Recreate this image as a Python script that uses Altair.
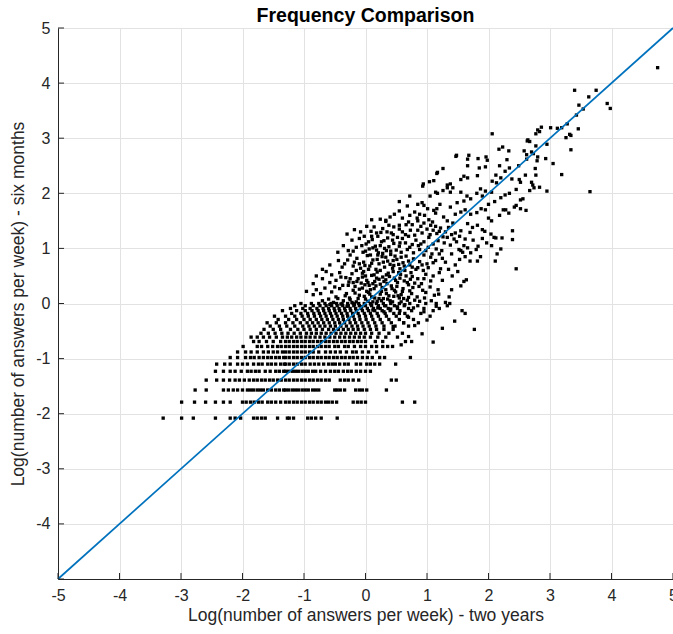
import altair as alt
import pandas as pd

# ---- data ----
tick_values = [-5, -4, -3, -2, -1, 0, 1, 2, 3, 4, 5]
y_label_values = [-4, -3, -2, -1, 0, 1, 2, 3, 4, 5]
line_x = [-5, 5]
line_y = [-5, 5]

# discrete rows in the lower part (y level, x positions)
row_levels = [-2.08, -1.79, -1.57, -1.39, -1.23, -1.10, -0.98, -0.88, -0.78, -0.69,
              -0.61, -0.54, -0.47, -0.41, -0.35, -0.29, -0.23, -0.18, -0.13, -0.09, -0.04, 0.00]
row_xs = [
    [-3.29, -2.99, -2.80, -2.44, -2.20, -2.12, -2.03, -1.82, -1.76, -1.69, -1.63, -1.43, -1.27, -1.24, -1.17, -0.94, -0.88, -0.81, -0.72, -0.46],
    [-2.99, -2.78, -2.60, -2.44, -2.31, -2.20, -2.00, -1.94, -1.87, -1.81, -1.74, -1.68, -1.59, -1.53, -1.46, -1.38, -1.30, -1.24, -1.17, -1.11, -1.04, -0.98, -0.91, -0.85, -0.78, -0.72, -0.65, -0.60, -0.54, -0.47, -0.20, -0.13, -0.07, 0.00, 0.60, 0.80],
    [-2.77, -2.59, -2.31, -2.23, -2.15, -2.08, -2.00, -1.92, -1.87, -1.82, -1.76, -1.71, -1.66, -1.59, -1.53, -1.46, -1.40, -1.33, -1.30, -1.25, -1.19, -1.14, -1.09, -1.03, -0.98, -0.93, -0.86, -0.81, -0.76, -0.50, -0.46, -0.41, -0.34, -0.16, -0.10, -0.05, 0.02, 0.34],
    [-2.59, -2.42, -2.31, -2.21, -2.12, -2.05, -1.97, -1.89, -1.82, -1.76, -1.69, -1.63, -1.56, -1.50, -1.43, -1.37, -1.30, -1.24, -1.17, -1.11, -1.04, -0.98, -0.91, -0.85, -0.78, -0.72, -0.65, -0.59, -0.41, -0.34, -0.28, -0.20, -0.11, 0.42, 0.50],
    [-2.44, -2.31, -2.20, -2.12, -2.02, -1.92, -1.86, -1.79, -1.73, -1.63, -1.55, -1.46, -1.40, -1.33, -1.30, -1.25, -1.19, -1.14, -1.09, -1.03, -0.98, -0.93, -0.86, -0.81, -0.73, -0.65, -0.57, -0.50, -0.44, -0.36, -0.29, -0.23, -0.15, -0.08, 0.00, 0.08],
    [-2.42, -2.29, -2.20, -2.08, -2.00, -1.92, -1.82, -1.74, -1.68, -1.59, -1.53, -1.46, -1.38, -1.32, -1.30, -1.24, -1.17, -1.11, -1.04, -0.98, -0.90, -0.83, -0.76, -0.68, -0.60, -0.54, -0.49, -0.42, -0.34, -0.28, -0.15, -0.08, 0.02, 0.08, 0.15, 0.23, 0.49],
    [-2.20, -2.08, -1.95, -1.87, -1.81, -1.73, -1.66, -1.59, -1.53, -1.46, -1.40, -1.33, -1.30, -1.24, -1.17, -1.11, -1.04, -0.98, -0.91, -0.85, -0.78, -0.72, -0.65, -0.59, -0.52, -0.46, -0.39, -0.33, -0.26, -0.20, -0.13, -0.05, 0.03, 0.11, 0.23, 0.31, 0.73],
    [-2.08, -1.95, -1.86, -1.76, -1.66, -1.58, -1.50, -1.43, -1.35, -1.30, -1.24, -1.17, -1.11, -1.04, -0.98, -0.91, -0.85, -0.76, -0.65, -0.57, -0.49, -0.41, -0.31, -0.21, -0.15, -0.05, 0.05, 0.18],
    [-1.99, -1.76, -1.69, -1.59, -1.51, -1.43, -1.37, -1.30, -1.24, -1.17, -1.11, -1.04, -0.98, -0.91, -0.85, -0.78, -0.72, -0.65, -0.59, -0.50, -0.44, -0.34, -0.28, -0.18, -0.08, 0.00, 0.10, 0.18, 0.28, 0.36, 0.44],
    [-1.82, -1.73, -1.61, -1.50, -1.38, -1.30, -1.24, -1.17, -1.11, -1.04, -0.98, -0.91, -0.85, -0.78, -0.72, -0.65, -0.59, -0.52, -0.46, -0.39, -0.33, -0.26, -0.20, -0.13, -0.07, 0.00, 0.16, 0.28, 0.65, 0.75],
    [-1.86, -1.76, -1.66, -1.56, -1.45, -1.35, -1.27, -1.20, -1.12, -1.05, -0.97, -0.90, -0.82, -0.74, -0.66, -0.58, -0.50, -0.42, -0.34, -0.26, -0.18, -0.10, -0.02, 0.08, 0.20, 0.33, 0.52],
    [-1.70, -1.58, -1.47, -1.36, -1.26, -1.16, -1.06, -0.96, -0.88, -0.80, -0.72, -0.64, -0.56, -0.48, -0.40, -0.32, -0.24, -0.16, -0.08, 0.00, 0.10, 0.22, 0.38, 0.60],
    [-1.65, -1.50, -1.38, -1.22, -1.10, -1.00, -0.90, -0.80, -0.70, -0.60, -0.52, -0.44, -0.36, -0.28, -0.20, -0.12, -0.02, 0.08, 0.18, 0.30, 0.45],
    [-1.55, -1.40, -1.28, -1.15, -1.02, -0.92, -0.83, -0.74, -0.66, -0.57, -0.49, -0.40, -0.31, -0.22, -0.13, -0.04, 0.06, 0.17, 0.30, 0.48, 0.70],
    [-1.60, -1.45, -1.30, -1.18, -1.06, -0.95, -0.86, -0.77, -0.68, -0.59, -0.50, -0.42, -0.34, -0.25, -0.16, -0.06, 0.04, 0.15, 0.27, 0.42, 0.62, 0.86],
    [-1.42, -1.25, -1.12, -1.00, -0.90, -0.80, -0.71, -0.62, -0.53, -0.44, -0.36, -0.27, -0.18, -0.09, 0.01, 0.12, 0.24, 0.38, 0.55, 0.78],
    [-1.48, -1.30, -1.15, -1.03, -0.93, -0.83, -0.73, -0.64, -0.55, -0.46, -0.37, -0.29, -0.20, -0.10, 0.00, 0.10, 0.21, 0.34, 0.50, 0.68, 1.05],
    [-1.20, -1.05, -0.94, -0.84, -0.75, -0.66, -0.57, -0.48, -0.39, -0.30, -0.21, -0.12, -0.02, 0.08, 0.19, 0.32, 0.46, 0.64, 0.90, 1.62],
    [-1.35, -1.12, -0.98, -0.87, -0.77, -0.68, -0.59, -0.50, -0.42, -0.33, -0.24, -0.15, -0.05, 0.05, 0.15, 0.27, 0.40, 0.56, 0.75, 1.10, 1.57],
    [-1.22, -1.02, -0.90, -0.79, -0.69, -0.60, -0.51, -0.43, -0.34, -0.25, -0.16, -0.07, 0.03, 0.13, 0.24, 0.37, 0.52, 0.70, 0.95, 1.20],
    [-1.15, -0.98, -0.85, -0.74, -0.64, -0.55, -0.46, -0.37, -0.28, -0.19, -0.10, 0.00, 0.10, 0.21, 0.33, 0.47, 0.63, 0.85, 1.33],
    [-1.05, -0.88, -0.76, -0.66, -0.56, -0.47, -0.38, -0.29, -0.20, -0.11, -0.02, 0.08, 0.18, 0.29, 0.41, 0.55, 0.72, 0.98, 1.15, 1.37],
]

# upper cloud (x, y)
cloud = [
    # 0.0 - 0.3
    (-0.96, 0.22), (-0.85, 0.16), (-0.80, 0.25), (-0.73, 0.18), (-0.66, 0.28), (-0.60, 0.08), (-0.55, 0.21), (-0.48, 0.12),
    (-0.42, 0.27), (-0.36, 0.05), (-0.31, 0.18), (-0.26, 0.10), (-0.20, 0.24), (-0.15, 0.03), (-0.10, 0.15), (-0.05, 0.28),
    (0.00, 0.08), (0.05, 0.20), (0.10, 0.12), (0.14, 0.27), (0.19, 0.04), (0.24, 0.17), (0.29, 0.09), (0.33, 0.25),
    (0.38, 0.14), (0.44, 0.03), (0.49, 0.21), (0.55, 0.10), (0.61, 0.27), (0.68, 0.06), (0.75, 0.18), (0.84, 0.12),
    (0.93, 0.24), (1.07, 0.05), (1.12, 0.15), (1.19, 0.17), (1.30, 0.02), (1.36, 0.12), (-0.70, 0.05), (-0.22, 0.02),
    (0.02, 0.22), (0.27, 0.29), (0.58, 0.03),
    # 0.3 - 0.6
    (-0.85, 0.36), (-0.80, 0.50), (-0.70, 0.45), (-0.64, 0.58), (-0.58, 0.38), (-0.55, 0.52), (-0.48, 0.42), (-0.42, 0.56),
    (-0.37, 0.33), (-0.32, 0.47), (-0.27, 0.39), (-0.22, 0.54), (-0.17, 0.31), (-0.12, 0.45), (-0.07, 0.37), (-0.03, 0.58),
    (0.02, 0.42), (0.06, 0.33), (0.10, 0.51), (0.15, 0.40), (0.19, 0.57), (0.24, 0.35), (0.28, 0.48), (0.33, 0.43),
    (0.37, 0.55), (0.42, 0.32), (0.47, 0.46), (0.52, 0.38), (0.57, 0.53), (0.63, 0.41), (0.70, 0.34), (0.76, 0.49),
    (0.85, 0.45), (0.91, 0.36), (0.98, 0.53), (1.06, 0.41), (1.20, 0.56), (1.35, 0.62), (1.41, 0.50), (1.55, 0.32),
    (1.60, 0.40), (1.64, 0.43), (-0.05, 0.48), (0.22, 0.44), (0.45, 0.58), (0.12, 0.36), (-0.25, 0.45),
    # 0.6 - 0.9
    (-0.70, 0.62), (-0.58, 0.70), (-0.44, 0.78), (-0.38, 0.66), (-0.29, 0.79), (-0.25, 0.88), (-0.20, 0.68), (-0.14, 0.82),
    (-0.08, 0.64), (-0.03, 0.75), (0.03, 0.87), (0.07, 0.68), (0.12, 0.79), (0.17, 0.62), (0.22, 0.72), (0.27, 0.85),
    (0.31, 0.66), (0.36, 0.77), (0.41, 0.89), (0.46, 0.69), (0.51, 0.80), (0.56, 0.63), (0.61, 0.74), (0.66, 0.86),
    (0.72, 0.70), (0.78, 0.81), (0.85, 0.65), (0.88, 0.76), (0.95, 0.88), (1.00, 0.72), (1.06, 0.84), (1.14, 0.78),
    (1.22, 0.63), (1.46, 0.70), (1.53, 0.80), (1.62, 0.85), (1.70, 0.77), (1.82, 0.77), (1.87, 0.85), (2.11, 0.77),
    (2.14, 0.90), (-0.10, 0.72), (0.40, 0.71), (0.20, 0.88), (0.63, 0.68),
    # 0.9 - 1.2
    (-0.45, 0.93), (-0.36, 1.05), (-0.28, 0.96), (-0.22, 1.15), (-0.15, 1.02), (-0.10, 1.18), (-0.04, 0.93), (0.01, 1.08),
    (0.06, 0.99), (0.11, 1.16), (0.16, 1.04), (0.21, 0.92), (0.26, 1.12), (0.31, 1.00), (0.36, 1.19), (0.41, 0.95),
    (0.46, 1.09), (0.55, 1.04), (0.60, 1.18), (0.65, 1.10), (0.70, 1.22), (0.76, 1.07), (0.82, 1.15), (0.88, 0.98),
    (0.95, 1.12), (1.03, 1.20), (1.10, 1.08), (1.18, 1.14), (1.24, 0.96), (1.33, 1.20), (1.38, 1.06), (1.44, 1.17),
    (1.52, 0.98), (1.58, 0.93), (1.66, 1.01), (1.71, 0.92), (1.80, 0.98), (1.83, 1.04), (1.97, 1.10), (2.05, 1.05),
    (2.12, 1.19), (2.20, 0.99), (2.22, 1.19), (2.39, 1.16), (1.55, 0.96), (0.50, 0.97),
    # 1.2 - 1.5
    (-0.30, 1.26), (-0.18, 1.34), (-0.08, 1.30), (0.02, 1.40), (0.09, 1.31), (0.14, 1.39), (0.18, 1.28), (0.25, 1.29),
    (0.33, 1.49), (0.38, 1.42), (0.46, 1.39), (0.55, 1.42), (0.66, 1.43), (0.73, 1.33), (0.76, 1.43), (0.85, 1.33),
    (0.90, 1.40), (0.95, 1.46), (1.00, 1.35), (1.06, 1.42), (1.10, 1.33), (1.16, 1.27), (1.22, 1.37), (1.26, 1.21),
    (1.30, 1.30), (1.40, 1.25), (1.46, 1.28), (1.53, 1.22), (1.62, 1.17), (1.66, 1.45), (1.74, 1.38), (1.82, 1.42),
    (1.90, 1.34), (1.94, 1.31), (2.04, 1.26), (2.09, 1.20), (2.39, 1.32), (1.70, 1.29), (1.55, 1.32), (0.60, 1.30),
    (0.28, 1.36), (-0.02, 1.22), (0.45, 1.25),
    # 1.5 - 1.8
    (0.10, 1.52), (0.24, 1.53), (0.33, 1.51), (0.40, 1.57), (0.47, 1.62), (0.55, 1.68), (0.60, 1.55), (0.68, 1.77),
    (0.72, 1.60), (0.80, 1.66), (0.84, 1.55), (0.88, 1.62), (0.96, 1.60), (1.03, 1.52), (1.09, 1.48), (1.01, 1.72),
    (1.11, 1.69), (1.16, 1.72), (1.21, 1.80), (1.27, 1.57), (1.33, 1.50), (1.42, 1.46), (1.46, 1.62), (1.55, 1.66),
    (1.62, 1.70), (1.71, 1.62), (1.81, 1.65), (1.88, 1.72), (1.95, 1.70), (2.00, 1.55), (2.05, 1.50), (2.18, 1.60),
    (2.24, 1.70), (2.28, 1.70), (2.42, 1.75), (2.52, 1.72), (2.61, 1.69), (2.45, 1.78), (2.33, 1.64), (1.14, 1.64),
    (1.38, 1.75), (0.95, 1.78),
    # 1.8 - 2.1
    (0.55, 1.85), (0.72, 1.95), (0.85, 1.80), (0.92, 1.83), (1.05, 1.95), (1.14, 2.02), (1.17, 2.00), (1.26, 2.05),
    (1.33, 2.10), (1.38, 2.02), (1.42, 2.10), (1.49, 1.83), (1.55, 2.02), (1.60, 1.86), (1.71, 1.90), (1.81, 2.00),
    (1.87, 2.08), (1.95, 2.04), (2.00, 1.80), (2.05, 2.02), (2.10, 1.85), (2.13, 2.19), (2.27, 1.97), (2.34, 2.00),
    (2.45, 2.07), (2.52, 1.88), (2.56, 1.90), (2.67, 2.05), (2.74, 2.10), (2.83, 2.11), (2.95, 2.04), (3.65, 2.03),
    (1.90, 1.95), (1.65, 1.95), (2.20, 1.92),
    # 2.1 - 2.5
    (0.93, 2.13), (0.94, 2.17), (1.04, 2.21), (1.11, 2.23), (1.16, 2.36), (1.17, 2.38), (1.26, 2.45), (1.38, 2.17),
    (1.55, 2.25), (1.60, 2.31), (1.66, 2.28), (1.82, 2.32), (1.85, 2.46), (1.95, 2.48), (2.06, 2.22), (2.12, 2.33),
    (2.20, 2.28), (2.27, 2.40), (2.34, 2.46), (2.38, 2.26), (2.50, 2.25), (2.52, 2.20), (2.60, 2.33), (2.70, 2.20),
    (2.77, 2.33), (2.72, 2.15), (3.19, 2.34), (1.33, 2.15), (1.66, 2.50), (2.18, 2.50), (2.76, 2.45),
    # 2.5 - 2.9
    (1.47, 2.67), (1.48, 2.69), (1.66, 2.62), (1.68, 2.69), (1.83, 2.63), (1.96, 2.66), (1.98, 2.60), (2.17, 2.80),
    (2.23, 2.84), (2.33, 2.77), (2.30, 2.61), (2.49, 2.50), (2.58, 2.77), (2.62, 2.62), (2.73, 2.72), (2.77, 2.86),
    (2.79, 2.59), (2.80, 2.66), (2.93, 2.63), (2.95, 2.89), (3.05, 2.54), (3.34, 2.79), (2.62, 2.70), (2.70, 2.75),
    # above 2.9
    (2.06, 3.08), (2.63, 2.95), (2.64, 2.97), (2.67, 2.94), (2.77, 3.08), (2.80, 3.15), (2.86, 3.20), (2.83, 3.12),
    (3.01, 3.19), (3.12, 3.18), (3.19, 3.19), (3.26, 3.01), (3.32, 3.07), (3.34, 3.05), (3.28, 3.26), (3.43, 3.42),
    (3.46, 3.17), (3.54, 3.53), (3.47, 3.60), (3.63, 3.75), (3.40, 3.87), (3.75, 3.87), (3.93, 3.63), (3.98, 3.54),
    (4.75, 4.28),
    # dense core and scattered low points
    (-0.30, -0.05), (-0.25, 0.07), (-0.18, -0.02), (-0.12, 0.09), (-0.06, -0.06), (0.04, 0.04), (0.09, -0.02), (0.15, 0.10),
    (0.20, -0.08), (0.26, 0.05), (0.31, -0.04), (0.36, 0.08), (0.41, -0.10), (0.46, 0.13), (0.52, -0.06), (0.58, 0.16),
    (0.64, -0.02), (0.70, 0.11), (0.78, -0.08), (0.88, 0.04),
    (-0.28, 0.33), (-0.20, 0.38), (-0.10, 0.26), (-0.01, 0.34), (0.08, 0.25), (0.17, 0.32), (0.26, 0.22), (0.35, 0.36),
    (0.43, 0.27), (0.51, 0.31), (0.60, 0.22), (0.68, 0.38), (0.77, 0.29), (0.87, 0.31),
    (-0.15, 0.60), (-0.05, 0.55), (0.05, 0.62), (0.14, 0.52), (0.24, 0.60), (0.34, 0.52), (0.44, 0.64), (0.54, 0.56),
    (0.64, 0.60), (0.74, 0.56), (0.82, 0.62), (0.94, 0.60), (1.02, 0.65),
    (0.00, 0.95), (0.08, 0.88), (0.18, 0.97), (0.28, 0.91), (0.38, 1.03), (0.48, 0.86), (0.58, 0.93), (0.68, 0.98),
    (0.78, 0.92), (0.86, 1.05), (0.98, 0.96), (1.08, 0.90), (1.15, 0.99),
    (0.05, 1.12), (0.20, 1.22), (0.30, 1.14), (0.42, 1.28), (0.52, 1.20), (0.65, 1.25), (0.80, 1.24), (0.92, 1.28),
    (1.05, 1.25), (1.20, 1.31),
    (-0.40, -0.01), (-0.52, 0.02), (0.12, -0.12), (0.30, -0.15), (0.55, -0.18), (0.70, -0.25), (0.95, -0.15), (1.15, -0.05),
    (0.62, -0.35), (0.80, -0.40), (1.00, -0.30), (1.77, -0.47), (1.45, -0.32), (1.25, -0.45), (0.45, -0.42), (0.92, -0.55),
    (0.70, -0.60), (1.10, -0.70), (0.58, -0.75), (2.45, 0.63),
    # more of the dense core
    (-0.58, -0.02), (-0.45, 0.09), (-0.33, 0.14), (-0.17, 0.19), (-0.02, 0.13), (0.07, 0.17), (0.12, 0.03), (0.22, 0.09),
    (0.34, 0.18), (0.40, 0.05), (0.47, 0.24), (0.53, 0.14), (0.62, 0.09), (0.72, 0.23), (0.80, 0.06), (0.96, 0.10),
    (-0.50, 0.30), (-0.40, 0.48), (-0.14, 0.40), (0.00, 0.50), (0.04, 0.38), (0.18, 0.46), (0.30, 0.40), (0.39, 0.49),
    (0.49, 0.42), (0.56, 0.46), (0.66, 0.50), (0.73, 0.44), (0.80, 0.37), (0.95, 0.45), (1.10, 0.50),
    (-0.34, 0.72), (-0.18, 0.75), (-0.01, 0.69), (0.10, 0.73), (0.19, 0.80), (0.29, 0.75), (0.33, 0.84), (0.45, 0.78),
    (0.54, 0.71), (0.58, 0.84), (0.70, 0.77), (0.76, 0.66), (0.92, 0.70), (1.10, 0.74), (1.25, 0.82),
    (-0.20, 0.95), (-0.06, 1.05), (0.12, 1.01), (0.24, 1.05), (0.34, 0.96), (0.44, 1.15), (0.56, 1.10), (0.72, 1.02),
    (0.90, 1.08), (1.02, 1.02), (1.28, 1.10),
    (0.10, 1.22), (0.35, 1.30), (0.55, 1.35), (0.70, 1.48), (0.85, 1.50), (1.14, 1.40), (1.35, 1.38), (1.48, 1.12),
    (1.60, 1.05), (1.75, 1.15), (1.90, 1.18),
    (1.20, 0.90), (1.30, 0.75), (1.40, 0.90), (1.50, 0.58), (1.25, 0.42), (1.05, 0.30), (1.18, 0.25), (0.98, 0.20),
    (1.40, 0.25),
]

# ---- build tables ----
pts = []
for lvl, xs in zip(row_levels, row_xs):
    for xv in xs:
        pts.append({"x": xv, "y": lvl})
for xv, yv in cloud:
    pts.append({"x": xv, "y": yv})
points_df = pd.DataFrame(pts)
line_df = pd.DataFrame({"x": line_x, "y": line_y})
ticks_df = pd.DataFrame({"v": tick_values})

W, H = 615, 551
xscale = alt.Scale(domain=[-5, 5], nice=False, zero=False)
yscale = alt.Scale(domain=[-5, 5], nice=False, zero=False)

base_font = "Liberation Sans"
label_expr = "'' + datum.value"

xaxis = alt.Axis(values=tick_values, title="Log(number of answers per week) - two years",
                 grid=True, gridColor="#e2e2e2", ticks=False, domainColor="#262626",
                 labelFontSize=16, labelColor="#262626", labelPadding=8, labelExpr=label_expr,
                 titleFontSize=17.5, titleFontWeight="normal", titleColor="#262626", titlePadding=3,
                 labelFont=base_font, titleFont=base_font, labelFlush=False)
yaxis = alt.Axis(values=y_label_values, title="Log(number of answers per week) - six months",
                 grid=True, gridColor="#e2e2e2", ticks=False, domainColor="#262626",
                 labelFontSize=16, labelColor="#262626", labelPadding=8, labelExpr=label_expr,
                 titleFontSize=17.5, titleFontWeight="normal", titleColor="#262626", titlePadding=8,
                 labelFont=base_font, titleFont=base_font)

scatter = alt.Chart(points_df).mark_square(size=11, color="black", opacity=1).encode(
    x=alt.X("x:Q", scale=xscale, axis=xaxis),
    y=alt.Y("y:Q", scale=yscale, axis=yaxis),
)

diag = alt.Chart(line_df).mark_line(color="#0072BD", strokeWidth=1.7).encode(
    x=alt.X("x:Q", scale=xscale),
    y=alt.Y("y:Q", scale=yscale),
)

left_ticks = alt.Chart(ticks_df).mark_rule(color="#262626", strokeWidth=1).encode(
    y=alt.Y("v:Q", scale=yscale),
    x=alt.value(0), x2=alt.value(6),
)
bottom_ticks = alt.Chart(ticks_df).mark_rule(color="#262626", strokeWidth=1).encode(
    x=alt.X("v:Q", scale=xscale),
    y=alt.value(H), y2=alt.value(H - 6),
)

chart = alt.layer(scatter, diag, left_ticks, bottom_ticks).properties(
    width=W, height=H,
    title=alt.Title("Frequency Comparison", fontSize=19.5, fontWeight="bold", font=base_font,
                    color="black", anchor="middle", offset=-6),
    autosize=alt.AutoSizeParams(type="none"),
    padding={"left": 58, "top": 28, "right": 0, "bottom": 55},
).configure_view(stroke=None).configure(background="white")

chart.save("out.html", embed_options={"renderer": "svg", "actions": False})
